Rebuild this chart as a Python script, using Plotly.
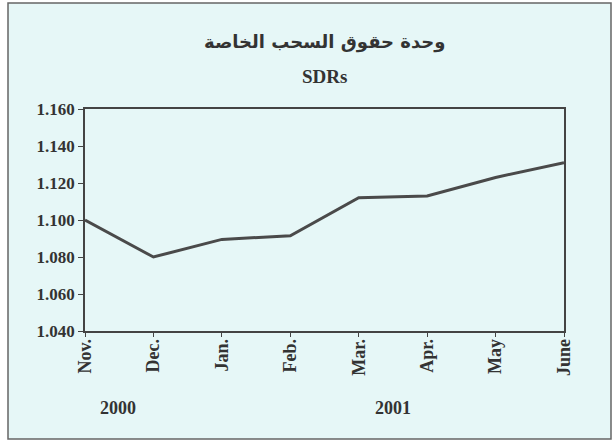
import plotly.graph_objects as go

months = ["Nov.", "Dec.", "Jan.", "Feb.", "Mar.", "Apr.", "May", "June"]
sdr_values = [1.100, 1.080, 1.0895, 1.0915, 1.112, 1.113, 1.123, 1.131]
y_ticks = [1.040, 1.060, 1.080, 1.100, 1.120, 1.140, 1.160]
years = ["2000", "2001"]
year_pos = [0.48, 4.5]
title_ar = "وحدة حقوق السحب الخاصة"
title_en = "SDRs"

bg = "#e6f7f7"
serif = "Liberation Serif, Times New Roman, serif"

L, R, T, B = 85, 564, 109, 331
PW, PH = R - L, B - T

def py(pix):
    return (B - pix) / PH

def px(pix):
    return (pix - L) / PW

fig = go.Figure()
fig.add_trace(go.Scatter(
    x=list(range(len(months))), y=sdr_values, mode="lines",
    line=dict(color="#4a4a4a", width=3), showlegend=False, hoverinfo="skip"))

fig.update_layout(
    width=614, height=441,
    margin=dict(l=L, r=614 - R, t=T, b=441 - B),
    paper_bgcolor="white", plot_bgcolor="white",
    font=dict(family=serif, color="#333333", size=17),
)
fig.update_xaxes(
    range=[0, len(months) - 1], tickmode="array",
    tickvals=list(range(len(months))), ticktext=["<b>%s</b>" % m for m in months],
    tickangle=-90, ticks="outside", ticklen=4, tickcolor="#444",
    ticklabelstandoff=-5,
    showline=True, linecolor="#444", linewidth=1.5, mirror=True,
    showgrid=False, zeroline=False, tickfont=dict(size=18, family=serif),
)
fig.update_yaxes(
    range=[y_ticks[0], y_ticks[-1]], tickmode="array",
    tickvals=y_ticks, ticktext=["<b>%.3f</b>" % v for v in y_ticks],
    ticks="outside", ticklen=5, tickcolor="#444",
    showline=True, linecolor="#444", linewidth=1.5, mirror=True,
    showgrid=False, zeroline=False, tickfont=dict(size=17, family=serif),
)

annotations = [
    dict(text="<b>%s</b>" % title_ar, xref="paper", yref="paper", x=0.5, y=py(42),
         xanchor="center", yanchor="middle",
         showarrow=False, font=dict(size=18, family="DejaVu Serif, DejaVu Sans, serif", color="#333")),
    dict(text="<b>%s</b>" % title_en, xref="paper", yref="paper", x=0.5, y=py(77),
         xanchor="center", yanchor="middle",
         showarrow=False, font=dict(size=19, family=serif, color="#333")),
]
for yr, xp in zip(years, year_pos):
    annotations.append(dict(text="<b>%s</b>" % yr, xref="x", yref="paper", x=xp,
                            y=py(408), xanchor="center", yanchor="middle", showarrow=False,
                            font=dict(size=18, family=serif, color="#333")))
fig.update_layout(annotations=annotations)

fig.add_shape(type="rect", xref="paper", yref="paper",
              x0=px(8), x1=px(611), y0=py(439), y1=py(3),
              line=dict(color="#666", width=1.5), fillcolor=bg, layer="below")

fig.write_html("out.html", config={"displayModeBar": False})

with open("out.html", "r", encoding="utf-8") as f:
    html = f.read()
html = html.replace("<body>", '<body style="margin:0;padding:0;">', 1)
with open("out.html", "w", encoding="utf-8") as f:
    f.write(html)
